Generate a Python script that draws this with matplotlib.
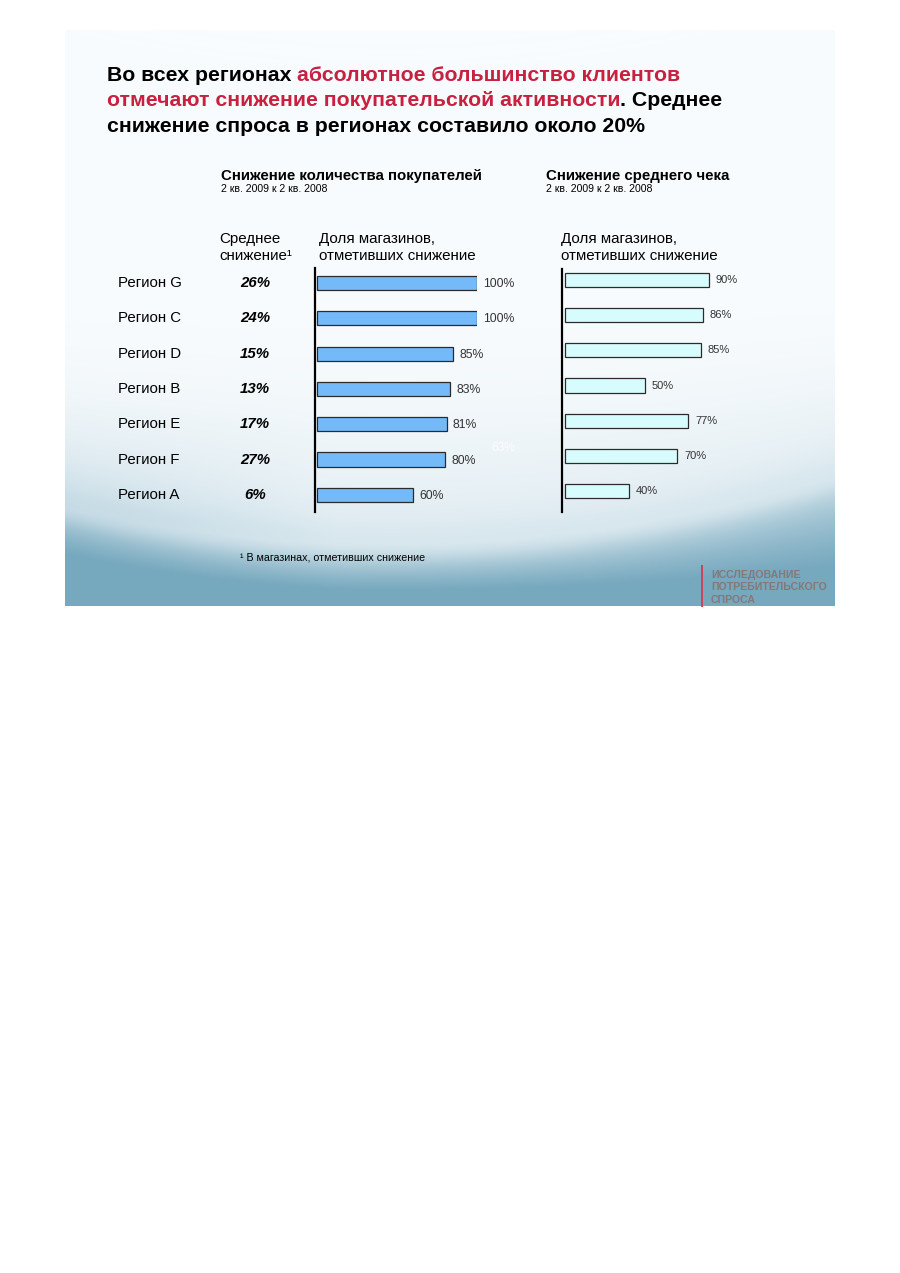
import numpy as np
import matplotlib.pyplot as plt
from matplotlib import transforms

plt.rcParams['font.family'] = ['Liberation Sans', 'DejaVu Sans']

# data
regions = ['Регион G', 'Регион C', 'Регион D', 'Регион B', 'Регион E', 'Регион F', 'Регион A']
avg_decline = [26, 24, 15, 13, 17, 27, 6]          # среднее снижение, %
share_buyers = [100, 100, 85, 83, 81, 80, 60]      # доля магазинов, снижение покупателей
share_check = [90, 86, 85, 50, 77, 70, 40]         # доля магазинов, снижение чека

W, H = 900, 1273
fig = plt.figure(figsize=(9, 12.73), dpi=100)
renderer = fig.canvas.get_renderer()

def fx(x):
    return x / W

def fy(y):
    return 1 - y / H

RED = '#c8203f'

# slide background (gradient with a soft wave at the bottom)
bg = fig.add_axes([0, 0, 1, 1])
sx0, sx1, sy0, sy1 = 65, 835, 30, 606
xx, yy = np.meshgrid(np.arange(sx0, sx1) + 0.5, np.arange(sy0, sy1) + 0.5)
u = (xx - sx0) / (sx1 - sx0)
curve = 508 + 175 * u - 205 * u ** 2
above = np.clip((yy - 260) / (curve - 260), 0, 1) ** 2 * 0.2
left_tint = np.clip((yy - 380) / 140, 0, 1) ** 1.5 * np.clip(1 - u / 0.35, 0, 1) * 0.18
below = 1 / (1 + np.exp(-(yy - curve) / 14)) * (0.2 + 0.8 * np.clip((yy - curve) / (sy1 - curve), 0, 1) ** 0.8)
s = np.clip(above + left_tint + below, 0, 1)[..., None]
top_c = np.array([249, 252, 254]) / 255
bot_c = np.array([118, 168, 190]) / 255
img = top_c * (1 - s) + bot_c * s
glow = np.exp(-((yy - curve - 4) / 12) ** 2)[..., None] * 0.15
img = img + (1 - img) * glow
bg.imshow(img, extent=(sx0, sx1, sy1, sy0), interpolation='bilinear', aspect='auto', zorder=0)
bg.set_xlim(0, W)
bg.set_ylim(H, 0)
bg.axis('off')


def measure(s, **kw):
    t = fig.text(0, 0, s, **kw)
    w = t.get_window_extent(renderer).width
    t.remove()
    return w


def rich_line(x, y, parts, **kw):
    prefix = ''
    for txt, col in parts:
        off = 0
        if prefix:
            off = measure(prefix + '|', **kw) - measure('|', **kw)
        fig.text(fx(x + off), fy(y), txt, color=col, va='baseline', ha='left', **kw)
        prefix += txt


title_kw = dict(fontsize=15.3, fontweight='bold')
rich_line(107, 81, [('Во всех регионах ', 'black'), ('абсолютное большинство клиентов', RED)], **title_kw)
rich_line(107, 106.5, [('отмечают снижение покупательской активности', RED), ('. Среднее', 'black')], **title_kw)
rich_line(107, 131.5, [('снижение спроса в регионах составило около 20%', 'black')], **title_kw)

# section titles
fig.text(fx(221), fy(180), 'Снижение количества покупателей', fontsize=10.8, fontweight='bold', va='baseline')
fig.text(fx(221), fy(191.5), '2 кв. 2009 к 2 кв. 2008', fontsize=7.6, va='baseline')
fig.text(fx(546), fy(180), 'Снижение среднего чека', fontsize=10.8, fontweight='bold', va='baseline')
fig.text(fx(546), fy(191.5), '2 кв. 2009 к 2 кв. 2008', fontsize=7.6, va='baseline')

# column headers
hdr = dict(fontsize=10.9, va='baseline')
fig.text(fx(219), fy(243.5), 'Среднее', **hdr)
fig.text(fx(219), fy(259.5), 'снижение¹', **hdr)
fig.text(fx(319), fy(243.5), 'Доля магазинов,', **hdr)
fig.text(fx(319), fy(259.5), 'отметивших снижение', **hdr)
fig.text(fx(561), fy(243.5), 'Доля магазинов,', **hdr)
fig.text(fx(561), fy(259.5), 'отметивших снижение', **hdr)

idx = np.arange(len(regions))

# left bars: share of stores with fewer buyers
axL = fig.add_axes([fx(315), fy(512), 162 / W, 244 / H])
axL.barh(idx, share_buyers, height=0.4, color='#74b9f8', edgecolor='#2b2b2b', linewidth=0.9)
axL.set_xlim(-1.25, 100)
axL.set_ylim(6.487, -0.425)
for i, v in enumerate(share_buyers):
    axL.annotate(f'{v}%', (v, i), xytext=(4.5, -0.8), textcoords='offset points',
                 va='center', ha='left', fontsize=8.8, color='#333333')

# right bars: share of stores with lower average check
axR = fig.add_axes([fx(562), fy(512), 163 / W, 243 / H])
axR.barh(idx, share_check, height=0.4, color='#d7fcfd', edgecolor='#2b2b2b', linewidth=0.9)
axR.set_xlim(-1.875, 100)
axR.set_ylim(6.597, -0.313)
for i, v in enumerate(share_check):
    axR.annotate(f'{v}%', (v, i), xytext=(5, 0), textcoords='offset points',
                 va='center', ha='left', fontsize=8, color='#333333')

for ax in (axL, axR):
    ax.set_facecolor('none')
    for side in ('top', 'right', 'bottom'):
        ax.spines[side].set_visible(False)
    ax.spines['left'].set_linewidth(1.6)
    ax.spines['left'].set_color('black')
    ax.set_xticks([])
    ax.set_yticks([])

# row labels and average decline, aligned with left bars
blend = transforms.blended_transform_factory(fig.transFigure, axL.transData)
for i, (name, d) in enumerate(zip(regions, avg_decline)):
    axL.text(fx(118), i, name, transform=blend, va='center', ha='left', fontsize=10.8)
    axL.text(fx(255), i, f'{d}%', transform=blend, va='center', ha='center',
             fontsize=10.8, fontweight='bold', fontstyle='italic')

# leftover hidden label on the slide
fig.text(fx(503), fy(448), '63%', color='white', fontsize=8.6, ha='center', va='center', alpha=0.8)

# footnote
fig.text(fx(240), fy(561), '¹ В магазинах, отметивших снижение', fontsize=7.7, va='baseline')

# logo block
bg.plot([702, 702], [566, 606], color='#d0405a', lw=1.4)
for k, line in enumerate(['ИССЛЕДОВАНИЕ', 'ПОТРЕБИТЕЛЬСКОГО', 'СПРОСА']):
    fig.text(fx(711), fy(578 + 12.5 * k), line, fontsize=7.6, fontweight='bold',
             color='#857878', va='baseline')

fig.savefig('out.png', dpi=100)
